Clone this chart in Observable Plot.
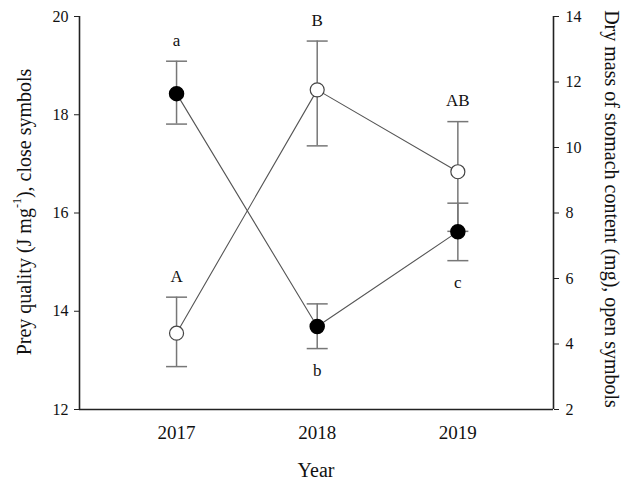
<!DOCTYPE html>
<html><head><meta charset="utf-8">
<script src="https://cdn.jsdelivr.net/npm/d3@7"></script>
<script src="https://cdn.jsdelivr.net/npm/@observablehq/plot@0.6"></script>
<style>body{margin:0;background:#fff} svg{display:block}</style>
</head><body><div id="chart"></div>
<script>
// ---- data ----
const years = [2017, 2018, 2019];
const preyQuality = [18.43, 13.69, 15.62];      // J mg-1 (left axis, closed symbols)
const preyQualityLow = [17.81, 13.24, 15.03];
const preyQualityHigh = [19.09, 14.15, 16.2];
const qualityLetters = ["a", "b", "c"];
const stomachMass = [4.33, 11.76, 9.26];        // mg (right axis, open symbols)
const stomachMassLow = [3.31, 10.05, 7.44];
const stomachMassHigh = [5.43, 13.25, 10.79];
const massLetters = ["A", "B", "AB"];
const leftTicks = [12, 14, 16, 18, 20];
const rightTicks = [2, 4, 6, 8, 10, 12, 14];
const xTickLabels = ["2017", "2018", "2019"];

// ---- layout config ----
const qualityLetterSide = ["above", "below", "below"];
const massLetterSide = ["above", "above", "above"];
const xDomain = [2016.31, 2019.68];
const leftDomain = [12, 20];
const rightDomain = [2, 14];
const font = "'Liberation Serif', 'Times New Roman', serif";

// map right-axis values onto the left y scale
const toLeft = d3.scaleLinear(rightDomain, leftDomain);

const idx = d3.range(years.length);
const quality = idx.map(i => ({x: years[i], y: preyQuality[i], lo: preyQualityLow[i], hi: preyQualityHigh[i], letter: qualityLetters[i], side: qualityLetterSide[i]}));
const mass = idx.map(i => ({x: years[i], y: toLeft(stomachMass[i]), lo: toLeft(stomachMassLow[i]), hi: toLeft(stomachMassHigh[i]), letter: massLetters[i], side: massLetterSide[i]}));

const capSymbol = {
  draw(context, size) {
    const w = Math.sqrt(size / Math.PI);
    context.moveTo(-w, 0);
    context.lineTo(w, 0);
  }
};

function errorMarks(data) {
  return [
    Plot.ruleX(data, {x: "x", y1: "lo", y2: "hi", stroke: "#777", strokeWidth: 1.5}),
    Plot.dot(data, {x: "x", y: "lo", symbol: capSymbol, r: 10.5, fill: "none", stroke: "#777", strokeWidth: 1.5}),
    Plot.dot(data, {x: "x", y: "hi", symbol: capSymbol, r: 10.5, fill: "none", stroke: "#777", strokeWidth: 1.5})
  ];
}
function letterMarks(data) {
  return [
    Plot.text(data.filter(d => d.side === "above"), {x: "x", y: "hi", text: "letter", dy: -21, fontSize: 17, fill: "#111"}),
    Plot.text(data.filter(d => d.side === "below"), {x: "x", y: "lo", text: "letter", dy: 22, fontSize: 17, fill: "#111"})
  ];
}

const chart = Plot.plot({
  width: 632,
  height: 483,
  marginLeft: 79,
  marginRight: 79,
  marginTop: 16,
  marginBottom: 74,
  style: {fontFamily: font, background: "#fff", color: "#111"},
  x: {domain: xDomain, axis: null},
  y: {domain: leftDomain, axis: null},
  marks: [
    ...errorMarks(quality),
    ...errorMarks(mass),
    Plot.lineY(quality, {x: "x", y: "y", stroke: "#555", strokeWidth: 1.1}),
    Plot.lineY(mass, {x: "x", y: "y", stroke: "#555", strokeWidth: 1.1}),
    Plot.dot(quality, {x: "x", y: "y", r: 7, fill: "#000", stroke: "#000"}),
    Plot.dot(mass, {x: "x", y: "y", r: 7, fill: "#fff", stroke: "#444", strokeWidth: 1.2}),
    ...letterMarks(quality),
    ...letterMarks(mass),
    Plot.ruleY([leftDomain[0]], {stroke: "#222", strokeWidth: 1.6}),
    Plot.ruleX(xDomain, {stroke: "#222", strokeWidth: 1.6}),
    Plot.axisY(leftTicks, {anchor: "left", tickSize: 5, tickPadding: 6, fontSize: 16, label: null, stroke: "#222"}),
    Plot.axisY(rightTicks.map(toLeft), {anchor: "right", tickSize: 5, tickPadding: 7, fontSize: 16, label: null, stroke: "#222",
      tickFormat: d => String(Math.round(toLeft.invert(d)))}),
    Plot.axisX(years, {tickSize: 0, tickPadding: 16, fontSize: 19, label: null, tickFormat: (d, i) => xTickLabels[i]})
  ]
});
document.getElementById("chart").append(chart);

// axis titles
const svg = d3.select(chart);
const titles = svg.append("g").attr("font-family", font).attr("fill", "#111").attr("font-size", 20);
titles.append("text").attr("x", 316).attr("y", 470).attr("text-anchor", "middle").attr("dominant-baseline", "central").text("Year");
const lt = titles.append("text").attr("transform", "translate(24,212) rotate(-90)").attr("text-anchor", "middle").attr("dominant-baseline", "central");
lt.append("tspan").text("Prey quality (J mg");
lt.append("tspan").attr("font-size", 12).attr("dy", -7).text("-1");
lt.append("tspan").attr("dy", 7).text("), close symbols");
titles.append("text").attr("transform", "translate(612,209) rotate(90)").attr("text-anchor", "middle").attr("dominant-baseline", "central")
  .text("Dry mass of stomach content (mg), open symbols");
</script>
</body></html>
